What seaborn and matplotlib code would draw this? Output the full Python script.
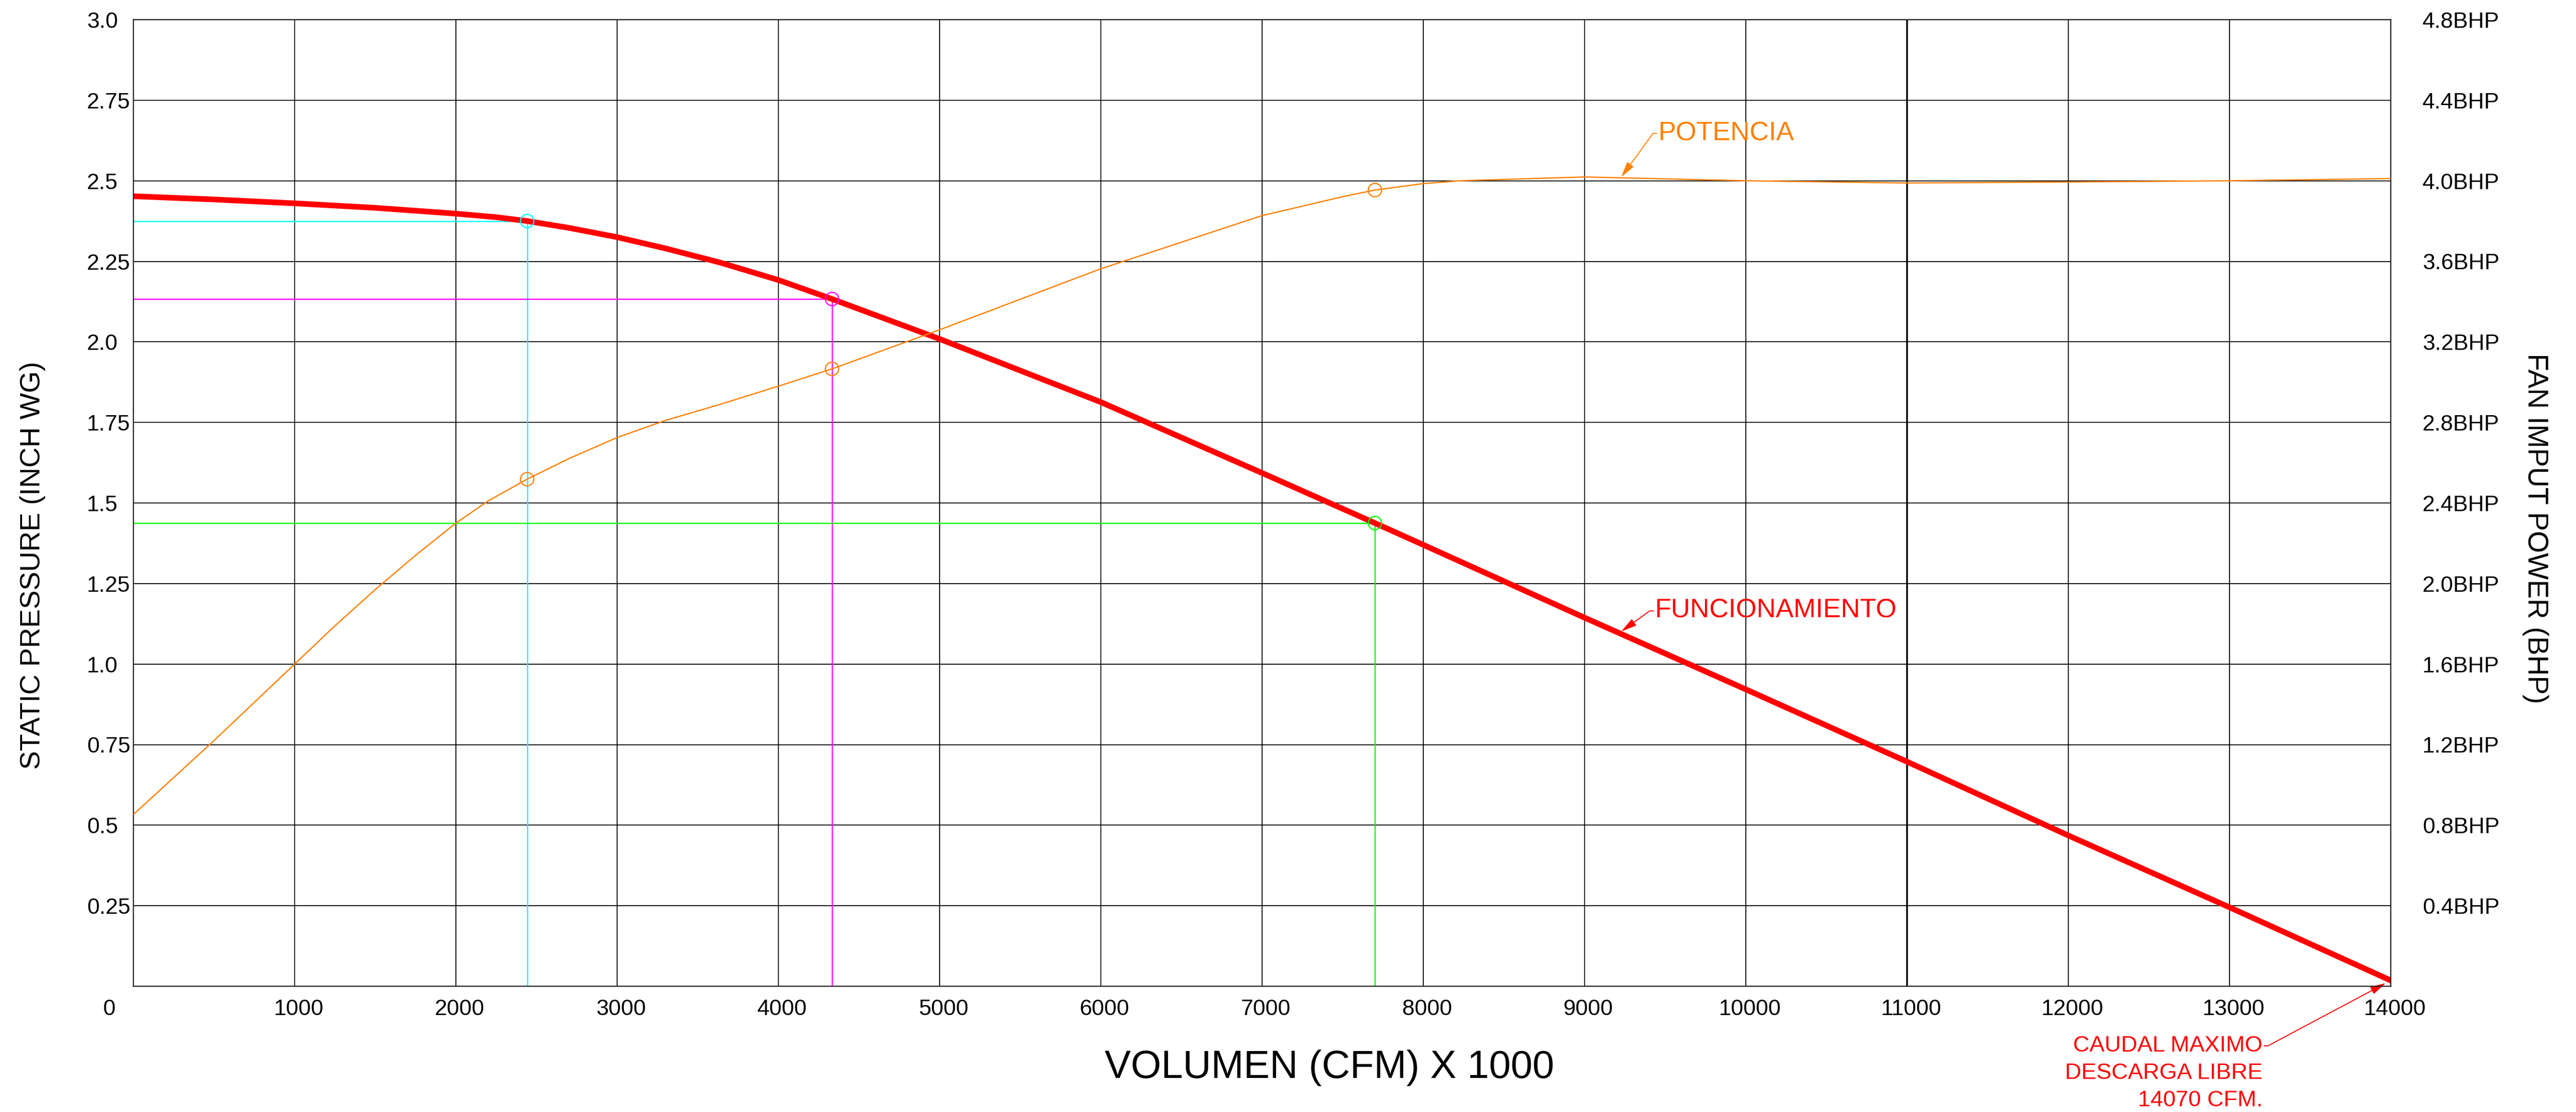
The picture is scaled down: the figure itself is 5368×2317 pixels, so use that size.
import matplotlib
matplotlib.use("Agg")
import matplotlib.pyplot as plt
import matplotlib.transforms as mtransforms
import seaborn as sns

# ---------------- data ----------------
flow_cfm = [0, 500, 1000, 1500, 2000, 2250, 2442, 2700, 3000, 3300, 3640,
            4000, 4333, 5000, 6000, 7000, 7700, 8000, 9000, 10000, 11000,
            12000, 13000, 14000]
static_pressure = [2.452, 2.442, 2.430, 2.416, 2.398, 2.387, 2.375, 2.354,
                   2.325, 2.290, 2.246, 2.192, 2.133, 2.009, 1.813, 1.593,
                   1.4375, 1.370, 1.144, 0.9215, 0.697, 0.468, 0.245, 0.018]

power_flow = [0, 500, 1000, 1250, 1500, 1750, 2000, 2200, 2442, 2700, 3000,
              3300, 3640, 4000, 4333, 5000, 6000, 7000, 7511, 7700, 8000,
              8227, 9000, 10000, 11000, 12000, 13000, 14000]
power_bhp = [0.853, 1.22, 1.60, 1.79, 1.97, 2.14, 2.30, 2.41, 2.518, 2.62,
             2.725, 2.81, 2.89, 2.98, 3.066, 3.26, 3.563, 3.827, 3.923, 3.954,
             3.986, 4.0, 4.019, 4.0, 3.989, 3.994, 4.0, 4.011]

op_flow = [2442, 4333, 7700]
op_pressure = [2.375, 2.133, 1.4375]
op_power = [2.518, 3.066, 3.954]
op_colors = ["#00FFFF", "#FF00FF", "#00FF00"]

x_ticks = [0, 1000, 2000, 3000, 4000, 5000, 6000, 7000, 8000, 9000, 10000,
           11000, 12000, 13000, 14000]
x_tick_labels = [str(v) for v in x_ticks]
y_ticks = [0.25, 0.5, 0.75, 1.0, 1.25, 1.5, 1.75, 2.0, 2.25, 2.5, 2.75, 3.0]
y_tick_labels = ["0.25", "0.5", "0.75", "1.0", "1.25", "1.5", "1.75", "2.0",
                 "2.25", "2.5", "2.75", "3.0"]
bhp_ticks = [0.4, 0.8, 1.2, 1.6, 2.0, 2.4, 2.8, 3.2, 3.6, 4.0, 4.4, 4.8]
bhp_tick_labels = ["0.4BHP", "0.8BHP", "1.2BHP", "1.6BHP", "2.0BHP", "2.4BHP",
                   "2.8BHP", "3.2BHP", "3.6BHP", "4.0BHP", "4.4BHP", "4.8BHP"]

caudal_lines = ["CAUDAL MAXIMO", "DESCARGA LIBRE", "14070 CFM."]

RED = "#FF0000"
ORANGE = "#FF8000"
GRID = "#000000"

# ---------------- style ----------------
sns.set_style("white")
plt.rcParams["font.family"] = ["Liberation Sans", "DejaVu Sans"]

DPI = 100
W_PX, H_PX = 5368, 2317
fig = plt.figure(figsize=(W_PX / DPI, H_PX / DPI), dpi=DPI)
fig.patch.set_facecolor("white")

L, R, T, B = 278, 4982, 41, 2055
ax = fig.add_axes([L / W_PX, 1 - B / H_PX, (R - L) / W_PX, (B - T) / H_PX])
ax.set_xlim(0, 14000)
ax.set_ylim(0, 3.0)
ax2 = ax.twinx()
ax2.set_ylim(0, 4.8)

# grid & frame
ax.set_xticks(x_ticks)
ax.set_xticklabels(x_tick_labels)
ax.set_yticks(y_ticks)
ax.set_yticklabels(y_tick_labels)
ax2.set_yticks(bhp_ticks)
ax2.set_yticklabels(bhp_tick_labels)
ax.grid(True, color=GRID, lw=1.35)
ax2.grid(False)
ax.set_axisbelow(True)
for a in (ax, ax2):
    for s in a.spines.values():
        s.set_color("#222222")
        s.set_linewidth(1.6)

TICK_FS = 33.5
ax.tick_params(axis="x", length=0, labelsize=TICK_FS, pad=19, colors="black")
ax.tick_params(axis="y", length=0, labelsize=TICK_FS, pad=70, colors="black")
ax2.tick_params(axis="y", length=0, labelsize=TICK_FS, pad=47.5, colors="black")
for t in ax.get_yticklabels():
    t.set_horizontalalignment("left")

# ---------------- curves ----------------
sns.lineplot(x=power_flow, y=power_bhp, ax=ax2, color=ORANGE, lw=1.9,
             estimator=None, sort=False, zorder=3)
sns.lineplot(x=flow_cfm, y=static_pressure, ax=ax, color=RED, lw=8.5,
             estimator=None, sort=False, zorder=3,
             solid_capstyle="round", solid_joinstyle="round")

# operating point reference lines
for xv, yv, pv, c in zip(op_flow, op_pressure, op_power, op_colors):
    ax.hlines(yv, 0, xv, colors=c, lw=1.8, zorder=2.5)
    ax.vlines(xv, 0, yv, colors=c, lw=1.8, zorder=2.5)
ax.scatter(op_flow, op_pressure, s=400, facecolors="none",
           edgecolors=op_colors, linewidths=1.8, zorder=4)
ax2.scatter(op_flow, op_power, s=400, facecolors="none",
            edgecolors=ORANGE, linewidths=1.8, zorder=4)

# ---------------- annotations ----------------
def arrow_props(color, angle):
    return dict(arrowstyle="-|>,head_length=1.0,head_width=0.25",
                mutation_scale=20, lw=1.5, color=color, shrinkA=0, shrinkB=0,
                connectionstyle=f"arc,angleA={angle},armA=11,angleB=0,armB=0,rad=0",
                relpos=(0 if angle == 180 else 1, 0.5))

ax2.annotate("POTENCIA", xy=(9227, 4.018), xytext=(9457, 4.235),
             color=ORANGE, fontsize=40, ha="left", va="center",
             arrowprops=arrow_props(ORANGE, 180))
ax.annotate("FUNCIONAMIENTO", xy=(9227, 1.101), xytext=(9437, 1.165),
            color=RED, fontsize=40, ha="left", va="center",
            arrowprops=arrow_props(RED, 180))
ax.annotate(caudal_lines[0], xy=(13970, 0.01), xytext=(13205, -0.185),
            color=RED, fontsize=34, ha="right", va="center",
            arrowprops=arrow_props(RED, 0), annotation_clip=False)
for i, line in enumerate(caudal_lines[1:], start=1):
    ax.annotate(line, xy=(13205, -0.185), xytext=(0, -57 * i * 72 / DPI),
                textcoords="offset points", color=RED, fontsize=34,
                ha="right", va="center", annotation_clip=False)

# ---------------- axis labels ----------------
ax.set_xlabel("VOLUMEN (CFM) X 1000", fontsize=58.7, color="black")
ax.xaxis.label.set_va("center")
ax.xaxis.set_label_coords((2770 - L) / (R - L), (B - 2225) / (B - T))

ax.set_ylabel("STATIC PRESSURE (INCH WG)", fontsize=42, color="black")
ax.yaxis.label.set_va("center")
ax.yaxis.set_label_coords((68 - L) / (R - L), (B - 1178) / (B - T))

ax2.set_ylabel("FAN IMPUT POWER (BHP)", fontsize=42.5, color="black",
               rotation=270)
ax2.yaxis.label.set_va("center")
ax2.yaxis.set_label_coords((5283 - L) / (R - L), (B - 1101) / (B - T))

# thicker grid line at 11000 as in the reference
ax.get_xgridlines()[11].set_linewidth(2.6)

# small horizontal shifts of the x tick labels
for i, lab in enumerate(ax.get_xticklabels()):
    dx = -51 if i == 0 else 8
    lab.set_transform(lab.get_transform() +
                      mtransforms.ScaledTranslation(dx / DPI, 0, fig.dpi_scale_trans))

fig.savefig("out.png", dpi=DPI, facecolor="white")
